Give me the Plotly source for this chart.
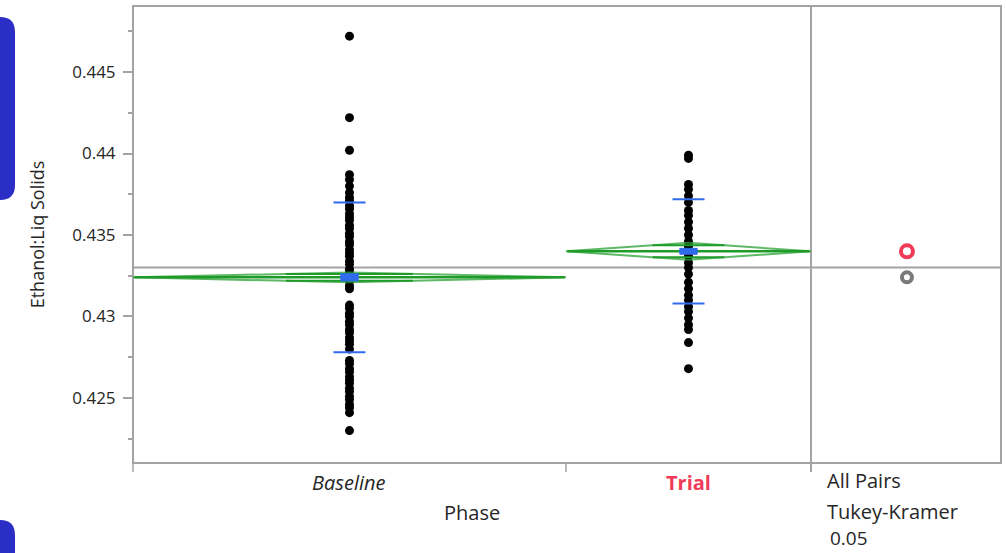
import math
import plotly.graph_objects as go

# ---- data -------------------------------------------------------------
phases = ["Baseline", "Trial"]

baseline_values = [
    0.4472, 0.4422, 0.4402, 0.4387, 0.4384, 0.4380, 0.4376,
    0.4373, 0.4371, 0.4368, 0.4366, 0.4363, 0.4361, 0.4359, 0.4356,
    0.4354, 0.4351, 0.4349, 0.4346, 0.4344, 0.4341, 0.4339, 0.4337,
    0.4334, 0.4332, 0.4329, 0.4327, 0.4324, 0.4322, 0.4319, 0.4317,
    0.4307, 0.4305, 0.4302, 0.4300, 0.4297, 0.4295, 0.4292, 0.4290,
    0.4287, 0.4285, 0.4283, 0.4280,
    0.4273, 0.4271, 0.4268, 0.4266, 0.4263, 0.4261, 0.4259, 0.4256,
    0.4254, 0.4251, 0.4249, 0.4246, 0.4244, 0.4241, 0.4230,
]

trial_values = [
    0.4399, 0.4397, 0.4381, 0.4378, 0.4374, 0.4370, 0.4365, 0.4362,
    0.4358, 0.4354, 0.4350, 0.4346, 0.4343, 0.4340, 0.4337, 0.4333,
    0.4330, 0.4326, 0.4321, 0.4317, 0.4313, 0.4310, 0.4306, 0.4303,
    0.4299, 0.4295, 0.4292, 0.4284, 0.4268,
]

group_means = [0.4324, 0.4340]
group_ci_half = [0.00030, 0.00052]      # 95% CI half-width (means diamonds)
group_sd_upper = [0.4370, 0.4372]       # mean + 1 SD
group_sd_lower = [0.4278, 0.4308]       # mean - 1 SD
group_se = [0.00022, 0.00018]           # standard error of the mean
grand_mean = 0.4330

y_tickvals = [0.425, 0.43, 0.435, 0.44, 0.445]
y_ticktext = ["0.425", "0.43", "0.435", "0.44", "0.445"]

y_title = "Ethanol:Liq Solids"
x_title = "Phase"
test_lines = ["All Pairs", "Tukey-Kramer", "0.05"]

# ---- styling / geometry ----------------------------------------------
FONT = "Open Sans"
TXT = "#262626"
FRAME = "#A3A3A3"
GREEN = "#1E9B28"
GREEN_LIGHT = "rgba(40,160,50,0.75)"
BLUE = "#2F6BEB"
RED = "#EF3B57"
GRAY_CIRCLE = "#7A7A7A"

W, H = 1006, 553
ML, MR, MT, MB = 133, 5, 6, 90
plot_w = W - ML - MR
plot_h = H - MT - MB
split = (811 - ML) / plot_w                # groups panel | comparison panel
group_edges = [0.0, 0.6386, 1.0]            # in groups-panel x units
Y_RANGE = [0.42101, 0.44905]

fig = go.Figure()

groups_values = [baseline_values, trial_values]

for i, name in enumerate(phases):
    left, right = group_edges[i], group_edges[i + 1]
    c = (left + right) / 2
    half = (right - left) / 2
    m = group_means[i]
    ci = group_ci_half[i]

    # individual observations
    fig.add_trace(go.Scatter(
        x=[c] * len(groups_values[i]), y=groups_values[i], mode="markers",
        marker=dict(color="black", size=9, line=dict(width=0)),
        hoverinfo="y", name=name))

    # means diamond
    fig.add_trace(go.Scatter(
        x=[left, c, right, c, left], y=[m, m + ci, m, m - ci, m],
        mode="lines", line=dict(color=GREEN_LIGHT, width=2), hoverinfo="skip"))
    # mean line across the group
    fig.add_trace(go.Scatter(
        x=[left + 0.002, right - 0.002], y=[m, m], mode="lines",
        line=dict(color=GREEN, width=2.5), hoverinfo="skip"))
    # overlap marks
    k = 1 / math.sqrt(2)
    ox = half * (1 - k)
    for s in (1, -1):
        fig.add_trace(go.Scatter(
            x=[c - ox, c + ox], y=[m + s * ci * k] * 2, mode="lines",
            line=dict(color=GREEN, width=2), hoverinfo="skip"))

    # standard deviation lines
    sd_w = 0.0236
    for yv in (group_sd_upper[i], group_sd_lower[i]):
        fig.add_trace(go.Scatter(
            x=[c - sd_w, c + sd_w], y=[yv, yv], mode="lines",
            line=dict(color=BLUE, width=2), hoverinfo="skip"))

    # mean error bar (+/- SE)
    se_w = 0.0128
    se = group_se[i]
    fig.add_trace(go.Scatter(
        x=[c - se_w, c + se_w, c + se_w, c - se_w, c - se_w],
        y=[m - se, m - se, m + se, m + se, m - se],
        mode="lines", fill="toself", fillcolor=BLUE,
        line=dict(color=BLUE, width=1), hoverinfo="skip"))

# comparison circles (Tukey-Kramer)
fig.add_trace(go.Scatter(
    x=[0.505], y=[group_means[0]], xaxis="x2", yaxis="y", mode="markers",
    marker=dict(symbol="circle-open", size=10, color=GRAY_CIRCLE,
                line=dict(width=4, color=GRAY_CIRCLE)),
    hoverinfo="skip"))
fig.add_trace(go.Scatter(
    x=[0.505], y=[group_means[1]], xaxis="x2", yaxis="y", mode="markers",
    marker=dict(symbol="circle-open", size=12, color=RED,
                line=dict(width=4, color=RED)),
    hoverinfo="skip"))

# ---- frame, grand mean, ticks -----------------------------------------
shapes = [
    dict(type="rect", xref="paper", yref="paper", x0=0, x1=1, y0=0, y1=1,
         line=dict(color=FRAME, width=2), layer="below"),
    dict(type="line", xref="paper", yref="paper", x0=split, x1=split, y0=-9 / plot_h, y1=1,
         line=dict(color=FRAME, width=2), layer="below"),
    dict(type="line", xref="paper", yref="y", x0=0, x1=1, y0=grand_mean, y1=grand_mean,
         line=dict(color=FRAME, width=2), layer="below"),
]
for e in group_edges[:-1]:
    xp = e * split
    shapes.append(dict(type="line", xref="paper", yref="paper", x0=xp, x1=xp,
                       y0=-9 / plot_h, y1=0, line=dict(color=FRAME, width=1.5)))

# side decoration bars
def rounded_bar(x0, x1, y0, y1, r):
    """Rounded-right bar in pixel coordinates -> paper-coordinate path."""
    def px(x):
        return (x - ML) / plot_w
    def py(y):
        return (H - MB - y) / plot_h
    return (f"M {px(x0)},{py(y0)} L {px(x1 - r)},{py(y0)} "
            f"Q {px(x1)},{py(y0)} {px(x1)},{py(y0 + r)} "
            f"L {px(x1)},{py(y1 - r)} Q {px(x1)},{py(y1)} {px(x1 - r)},{py(y1)} "
            f"L {px(x0)},{py(y1)} Z")

for (ya, yb) in [(17, 200), (520, 590)]:
    shapes.append(dict(type="path", xref="paper", yref="paper",
                       path=rounded_bar(-20, 15, ya, yb, 15),
                       fillcolor="#2A2EC6", line=dict(width=0), layer="above"))

# ---- text -------------------------------------------------------------
LBL = 20
ann = []
label_styles = [
    dict(text="<i>" + phases[0] + "</i>", color=TXT),
    dict(text="<b>" + phases[1] + "</b>", color=RED),
]
for i, st in enumerate(label_styles):
    c = (group_edges[i] + group_edges[i + 1]) / 2 * split
    ann.append(dict(x=c, y=0, xref="paper", yref="paper", text=st["text"],
                    showarrow=False, xanchor="center", yanchor="middle", yshift=-19,
                    font=dict(family=FONT, size=LBL, color=st["color"])))
ann.append(dict(x=split / 2, y=0, xref="paper", yref="paper", text=x_title,
                showarrow=False, xanchor="center", yanchor="middle", yshift=-49,
                font=dict(family=FONT, size=LBL, color=TXT)))
for j, (t, dx, ys, fs) in enumerate(zip(test_lines, [825, 825, 828],
                                        [-17, -48, -75], [LBL, LBL, 19])):
    ann.append(dict(x=(dx - ML) / plot_w, y=0, xref="paper", yref="paper", text=t,
                    showarrow=False, xanchor="left", yanchor="middle", yshift=ys,
                    font=dict(family=FONT, size=fs, color=TXT)))

minor_vals = [v - 0.0025 for v in y_tickvals] + [y_tickvals[-1] + 0.0025]

fig.update_layout(
    width=W, height=H,
    margin=dict(l=ML, r=MR, t=MT, b=MB),
    plot_bgcolor="white", paper_bgcolor="white",
    showlegend=False,
    font=dict(family=FONT, color=TXT),
    xaxis=dict(domain=[0, split], range=[0, 1], showticklabels=False, ticks="",
               showgrid=False, zeroline=False, showline=False, fixedrange=True),
    xaxis2=dict(domain=[split, 1], range=[0, 1], anchor="y", showticklabels=False,
                ticks="", showgrid=False, zeroline=False, showline=False),
    yaxis=dict(range=Y_RANGE, tickvals=y_tickvals, ticktext=y_ticktext,
               ticks="outside", ticklen=9, tickwidth=1.5, tickcolor=FRAME,
               ticklabelstandoff=4,
               minor=dict(tickvals=minor_vals, ticks="outside", ticklen=4,
                          tickwidth=1.5, tickcolor=FRAME),
               showgrid=False, zeroline=False, showline=False,
               tickfont=dict(family=FONT, size=17, color=TXT),
               title=dict(text=y_title, standoff=22,
                          font=dict(family=FONT, size=18, color=TXT))),
    shapes=shapes,
    annotations=ann,
)

fig.write_html("out.html")
